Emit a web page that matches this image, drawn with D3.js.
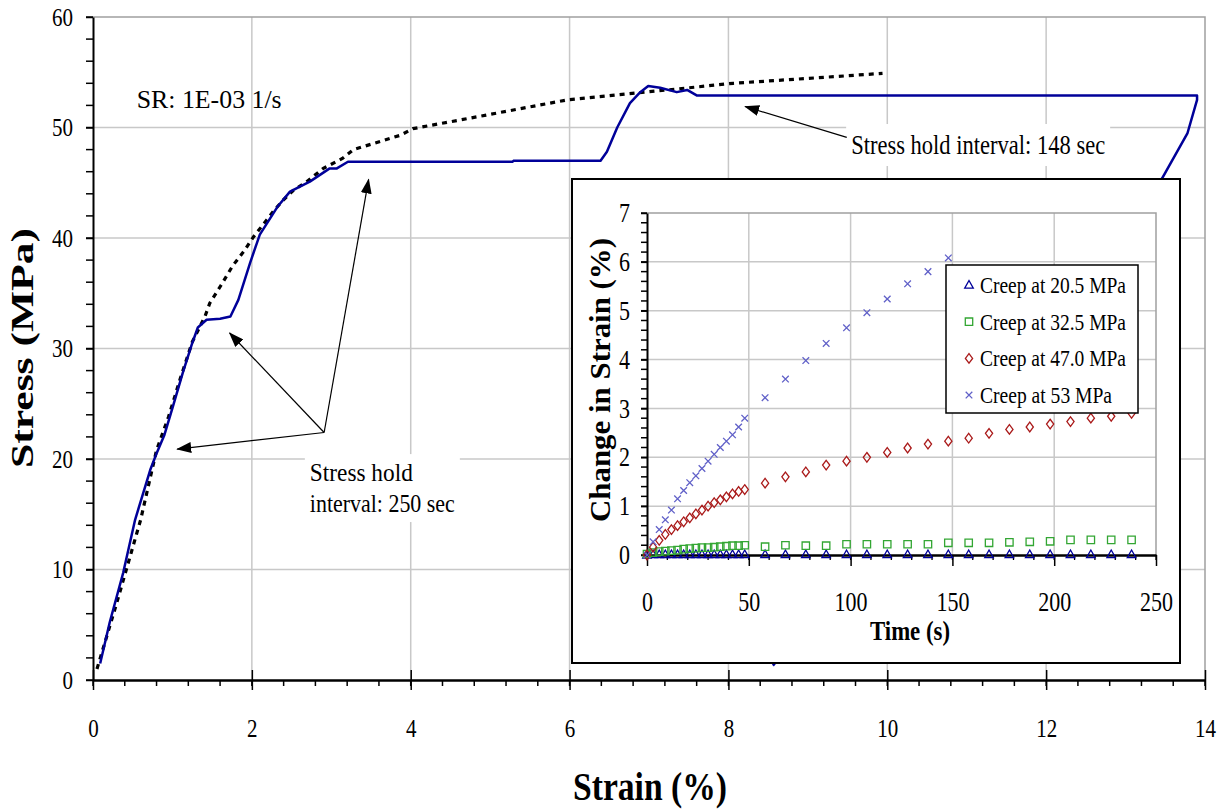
<!DOCTYPE html>
<html>
<head>
<meta charset="utf-8">
<script src="https://cdn.jsdelivr.net/npm/d3@7"></script>
<style>
body{margin:0;background:#fff;}
text{font-family:"Liberation Serif","Times New Roman",serif;}
</style>
</head>
<body>
<svg id="chart" width="1228" height="812"></svg>
<script>
// main test: stress hold curve (blue) and monotonic curve (dotted)
var blueStrain = [0.09,0.21,0.38,0.53,0.72,0.8,0.9,1.0,1.13,1.25,1.32,1.43,1.6,1.73,1.83,1.98,2.1,2.32,2.48,2.73,2.98,3.07,3.21,5.28,5.3,6.39,6.47,6.6,6.76,6.89,6.99,7.14,7.35,7.48,7.6,13.9,13.9,13.78,13.46,8.56];
var blueStress = [1.5,5.2,9.7,14.5,19.0,20.5,22.2,24.6,27.8,30.5,31.9,32.6,32.7,32.9,34.4,37.8,40.3,42.8,44.2,45.1,46.3,46.3,46.9,46.9,47.0,47.0,47.8,50.0,52.2,53.2,53.75,53.6,53.2,53.4,52.9,52.9,52.5,49.5,45.4,1.3];
var dotStrain = [0.05,0.3,0.6,0.8,0.95,1.1,1.25,1.41,1.47,1.61,1.76,1.91,2.02,2.14,2.27,2.39,2.52,2.69,2.9,3.14,3.28,3.87,4.03,4.71,5.97,7.23,8.06,9.12,9.94];
var dotStress = [1.0,7.0,14.5,20.8,23.8,27.3,30.6,32.9,34.1,35.7,37.5,38.9,40.1,41.2,42.4,43.4,44.3,45.1,46.3,47.2,48.0,49.3,49.9,50.8,52.5,53.4,54.0,54.5,54.9];
var mainXTicks = [0,2,4,6,8,10,12,14];
var mainYTicks = [0,10,20,30,40,50,60];

// inset: creep curves
var timeDense = [0,3,6,9,12,15,18,21,24,27,30,33,36,39,42,45,48];
var timeSparse = [58,68,78,88,98,108,118,128,138,148,158,168,178,188,198,208,218,228,238];
var creepTime = timeDense.concat(timeSparse);
var creep205 = [0,0.01,0.01,0.01,0.01,0.01,0.01,0.01,0.01,0.01,0.01,0.01,0.01,0.01,0.01,0.01,0.01,
  0.01,0.01,0.01,0.01,0.01,0.01,0.01,0.01,0.01,0.01,0.01,0.01,0.01,0.01,0.01,0.01,0.01,0.01,0.01];
var creep325 = [0.02,0.05,0.07,0.08,0.09,0.1,0.12,0.13,0.14,0.15,0.15,0.16,0.17,0.18,0.19,0.19,0.2,
  0.17,0.2,0.19,0.19,0.22,0.22,0.22,0.22,0.22,0.25,0.25,0.25,0.26,0.27,0.28,0.31,0.31,0.31,0.31];
var creep470 = [0,0.16,0.3,0.42,0.52,0.6,0.68,0.76,0.84,0.92,1.0,1.07,1.13,1.19,1.25,1.3,1.34,
  1.47,1.6,1.7,1.84,1.92,2.0,2.1,2.19,2.27,2.33,2.39,2.49,2.57,2.62,2.68,2.73,2.8,2.84,2.9];
var creep53 = [0,0.27,0.52,0.72,0.92,1.15,1.32,1.48,1.62,1.77,1.92,2.06,2.2,2.33,2.46,2.62,2.8,
  3.22,3.6,3.98,4.33,4.65,4.96,5.24,5.55,5.8,6.08];
var insetXTicks = [0,50,100,150,200,250];
var insetYTicks = [0,1,2,3,4,5,6,7];
var legendLabels = ["Creep at 20.5 MPa","Creep at 32.5 MPa","Creep at 47.0 MPa","Creep at 53 MPa"];

var svg = d3.select("#chart");
var serif = '"Liberation Serif","Times New Roman",serif';
var intFmt = d3.format("d");

function fit(sel, w) {
  sel.attr("textLength", w).attr("lengthAdjust", "spacingAndGlyphs");
}

svg.append("defs").append("marker")
  .attr("id", "head")
  .attr("markerUnits", "userSpaceOnUse")
  .attr("markerWidth", 15).attr("markerHeight", 11)
  .attr("refX", 14).attr("refY", 5.5)
  .attr("orient", "auto")
  .append("path").attr("d", "M0,0L15,5.5L0,11Z").attr("fill", "#000");

// ---------------- main plot ----------------
var x = d3.scaleLinear().domain([0, 14]).range([93, 1205]);
var y = d3.scaleLinear().domain([0, 60]).range([680, 17]);

var grid = svg.append("g").attr("stroke", "#c8c8c8").attr("stroke-width", 1.5);
grid.selectAll(null).data(mainXTicks.slice(1, -1)).enter().append("line")
  .attr("x1", d => x(d)).attr("x2", d => x(d)).attr("y1", y(60)).attr("y2", y(0));
grid.selectAll(null).data(mainYTicks.slice(1, -1)).enter().append("line")
  .attr("x1", x(0)).attr("x2", x(14)).attr("y1", d => y(d)).attr("y2", d => y(d));

//plot frame top and right
svg.append("path")
  .attr("d", "M" + x(0) + "," + y(60) + "H" + x(14) + "V" + y(0))
  .attr("fill", "none").attr("stroke", "#a0a0a0").attr("stroke-width", 1.5);

var line = d3.line().x(d => x(d[0])).y(d => y(d[1]));

svg.append("path")
  .datum(dotStrain.map((s, i) => [s, dotStress[i]]))
  .attr("d", line)
  .attr("fill", "none").attr("stroke", "#000")
  .attr("stroke-width", 3.2).attr("stroke-dasharray", "5,5");

svg.append("path")
  .datum(blueStrain.map((s, i) => [s, blueStress[i]]))
  .attr("d", line)
  .attr("fill", "none").attr("stroke", "#000099")
  .attr("stroke-width", 2.5).attr("stroke-linejoin", "round");

// y axis
var yAxis = svg.append("g")
  .attr("transform", "translate(" + x(0) + ",0)")
  .call(d3.axisLeft(y).tickValues(mainYTicks).tickFormat(intFmt).tickSize(7).tickSizeOuter(0));
yAxis.select(".domain").attr("stroke-width", 2);
yAxis.selectAll(".tick line").attr("stroke-width", 1.5);
yAxis.selectAll(".tick text")
  .attr("font-family", serif).attr("font-size", 25).attr("x", -20)
  .each(function(d) { fit(d3.select(this), 10.5 * intFmt(d).length); });
svg.append("g").selectAll(null).data(d3.range(0, 61, 2)).enter().append("line")
  .attr("x1", x(0) - 7).attr("x2", x(0)).attr("y1", d => y(d)).attr("y2", d => y(d))
  .attr("stroke", "#000").attr("stroke-width", 1.5);

// x axis
var xAxis = svg.append("g")
  .attr("transform", "translate(0," + y(0) + ")")
  .call(d3.axisBottom(x).tickValues(mainXTicks).tickFormat(intFmt).tickSize(10).tickSizeOuter(0));
xAxis.select(".domain").attr("stroke-width", 2.5);
xAxis.selectAll(".tick line").attr("y1", -10).attr("stroke-width", 1.5);
xAxis.selectAll(".tick text")
  .attr("font-family", serif).attr("font-size", 25).attr("y", 57).attr("dy", null)
  .each(function(d) { fit(d3.select(this), 10.5 * intFmt(d).length); });
svg.append("g").selectAll(null).data(d3.range(0, 14.001, 0.4)).enter().append("line")
  .attr("x1", d => x(d)).attr("x2", d => x(d)).attr("y1", y(0)).attr("y2", y(0) + 6)
  .attr("stroke", "#000").attr("stroke-width", 1.5);

svg.append("text")
  .attr("transform", "translate(33,348) rotate(-90) scale(1,0.8)")
  .attr("text-anchor", "middle").attr("font-size", 40).attr("font-weight", "bold")
  .text("Stress (MPa)").call(fit, 240);

svg.append("text")
  .attr("x", 650).attr("y", 800)
  .attr("text-anchor", "middle").attr("font-size", 40).attr("font-weight", "bold")
  .text("Strain (%)").call(fit, 154);

// annotations
svg.append("text").attr("x", x(0.55)).attr("y", y(51.8))
  .attr("font-size", 25).text("SR: 1E-03 1/s").call(fit, 145);

var ann1 = svg.append("g");
var t148 = ann1.append("text").attr("x", x(9.545)).attr("y", y(47.6))
  .attr("font-size", 27).text("Stress hold interval: 148 sec").call(fit, 254);
var b148 = t148.node().getBBox();
ann1.insert("rect", "text")
  .attr("x", b148.x - 5).attr("y", b148.y - 6)
  .attr("width", b148.width + 10).attr("height", b148.height + 12)
  .attr("fill", "#fff");
ann1.append("line")
  .attr("x1", x(9.49)).attr("y1", y(49.1)).attr("x2", x(8.21)).attr("y2", y(51.9))
  .attr("stroke", "#000").attr("stroke-width", 1.2).attr("marker-end", "url(#head)");

var ann2 = svg.append("g");
var t250a = ann2.append("text").attr("x", x(2.73)).attr("y", y(18.0))
  .attr("font-size", 26).text("Stress hold").call(fit, 103);
var t250b = ann2.append("text").attr("x", x(2.73)).attr("y", y(15.2))
  .attr("font-size", 26).text("interval: 250 sec").call(fit, 145);
var ba = t250a.node().getBBox(), bb = t250b.node().getBBox();
ann2.insert("rect", "text")
  .attr("x", ba.x - 5).attr("y", ba.y - 4)
  .attr("width", Math.max(ba.width, bb.width) + 10)
  .attr("height", bb.y + bb.height - ba.y + 8)
  .attr("fill", "#fff");
var hub = [2.91, 22.4];
[[1.06, 20.9], [1.72, 31.4], [3.47, 45.3]].forEach(function(tip) {
  ann2.append("line")
    .attr("x1", x(hub[0])).attr("y1", y(hub[1]))
    .attr("x2", x(tip[0])).attr("y2", y(tip[1]))
    .attr("stroke", "#000").attr("stroke-width", 1.2).attr("marker-end", "url(#head)");
});

// ---------------- inset ----------------
var inset = svg.append("g");
inset.append("rect")
  .attr("x", 572).attr("y", 179).attr("width", 608).attr("height", 484)
  .attr("fill", "#fff").attr("stroke", "#000").attr("stroke-width", 2);

var xi = d3.scaleLinear().domain([0, 250]).range([647, 1156]);
var yi = d3.scaleLinear().domain([0, 7]).range([555, 213]);

var igrid = inset.append("g").attr("stroke", "#c8c8c8").attr("stroke-width", 1.5);
igrid.selectAll(null).data(insetXTicks.slice(1, -1)).enter().append("line")
  .attr("x1", d => xi(d)).attr("x2", d => xi(d)).attr("y1", yi(7)).attr("y2", yi(0));
igrid.selectAll(null).data(insetYTicks.slice(1, -1)).enter().append("line")
  .attr("x1", xi(0)).attr("x2", xi(250)).attr("y1", d => yi(d)).attr("y2", d => yi(d));
inset.append("path")
  .attr("d", "M" + xi(0) + "," + yi(7) + "H" + xi(250) + "V" + yi(0))
  .attr("fill", "none").attr("stroke", "#a0a0a0").attr("stroke-width", 1.5);

var yiAxis = inset.append("g")
  .attr("transform", "translate(" + xi(0) + ",0)")
  .call(d3.axisLeft(yi).tickValues(insetYTicks).tickFormat(intFmt).tickSize(6).tickSizeOuter(0));
yiAxis.select(".domain").attr("stroke-width", 2);
yiAxis.selectAll(".tick line").attr("stroke-width", 1.5);
yiAxis.selectAll(".tick text")
  .attr("font-family", serif).attr("font-size", 27).attr("x", -17)
  .each(function(d) { fit(d3.select(this), 11 * intFmt(d).length); });
inset.append("g").selectAll(null).data(d3.range(0, 7.001, 0.2)).enter().append("line")
  .attr("x1", xi(0) - 6).attr("x2", xi(0)).attr("y1", d => yi(d)).attr("y2", d => yi(d))
  .attr("stroke", "#000").attr("stroke-width", 1.5);

var xiAxis = inset.append("g")
  .attr("transform", "translate(0," + yi(0) + ")")
  .call(d3.axisBottom(xi).tickValues(insetXTicks).tickFormat(intFmt).tickSize(11).tickSizeOuter(0));
xiAxis.select(".domain").attr("stroke-width", 2.5);
xiAxis.selectAll(".tick line").attr("stroke-width", 1.5);
xiAxis.selectAll(".tick text")
  .attr("font-family", serif).attr("font-size", 27).attr("y", 56).attr("dy", null)
  .each(function(d) { fit(d3.select(this), 11 * intFmt(d).length); });
inset.append("g").selectAll(null).data(d3.range(0, 250.001, 10)).enter().append("line")
  .attr("x1", d => xi(d)).attr("x2", d => xi(d)).attr("y1", yi(0)).attr("y2", yi(0) + 5)
  .attr("stroke", "#000").attr("stroke-width", 1.3);

inset.append("text")
  .attr("transform", "translate(610,380) rotate(-90) scale(1,0.85)")
  .attr("text-anchor", "middle").attr("font-size", 34).attr("font-weight", "bold")
  .text("Change in Strain (%)").call(fit, 284);
inset.append("text")
  .attr("x", 910).attr("y", 640)
  .attr("text-anchor", "middle").attr("font-size", 27).attr("font-weight", "bold")
  .text("Time (s)").call(fit, 80);

var shapes = {
  tri: "M0,-4.5L4.3,3.2L-4.3,3.2Z",
  sq: "M-3.7,-3.7h7.4v7.4h-7.4Z",
  dia: "M0,-4.8L3.6,0L0,4.8L-3.6,0Z",
  cross: "M-3.3,-3.3L3.3,3.3M-3.3,3.3L3.3,-3.3"
};
var series = [
  {label: legendLabels[0], values: creep205, shape: "tri", color: "#000099"},
  {label: legendLabels[1], values: creep325, shape: "sq", color: "#33a633"},
  {label: legendLabels[2], values: creep470, shape: "dia", color: "#aa1a1a"},
  {label: legendLabels[3], values: creep53, shape: "cross", color: "#6060c8"}
];

series.forEach(function(s) {
  inset.append("g").selectAll(null)
    .data(s.values.map((v, i) => [creepTime[i], v]))
    .enter().append("path")
    .attr("transform", d => "translate(" + xi(d[0]) + "," + yi(d[1]) + ")")
    .attr("d", shapes[s.shape])
    .attr("fill", "none").attr("stroke", s.color).attr("stroke-width", 1.3);
});

// legend
var lg = inset.append("g");
lg.append("rect")
  .attr("x", 946).attr("y", 265).attr("width", 192).attr("height", 148)
  .attr("fill", "#fff").attr("stroke", "#000").attr("stroke-width", 1.5);
var legendW = [146, 146, 146, 132];
var items = lg.selectAll(null).data(series).enter().append("g")
  .attr("transform", (d, i) => "translate(0," + (285 + i * 36.7) + ")");
items.append("path")
  .attr("transform", "translate(969,0)")
  .attr("d", d => shapes[d.shape])
  .attr("fill", "none").attr("stroke", d => d.color).attr("stroke-width", 1.3);
items.append("text")
  .attr("x", 980).attr("y", 8)
  .attr("font-size", 24)
  .text(d => d.label)
  .each(function(d, i) { fit(d3.select(this), legendW[i]); });
</script>
</body>
</html>
